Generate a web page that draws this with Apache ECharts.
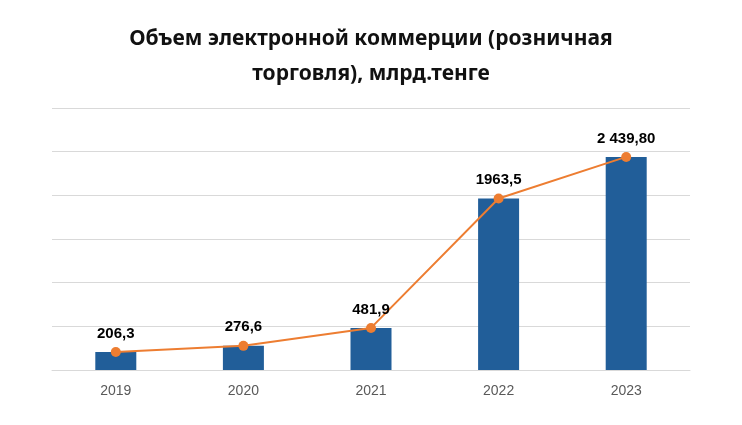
<!DOCTYPE html>
<html>
<head>
<meta charset="utf-8">
<script src="https://cdn.jsdelivr.net/npm/echarts@6/dist/echarts.min.js"></script>
<style>
html, body { margin: 0; padding: 0; background: #fff; }
#chart { width: 742px; height: 425px; }
</style>
</head>
<body>
<div id="chart"></div>
<script>
var years = ['2019', '2020', '2021', '2022', '2023'];
var values = [206.3, 276.6, 481.9, 1963.5, 2439.8];
var valueLabels = ['206,3', '276,6', '481,9', '1963,5', '2 439,80'];

var myChart = echarts.init(document.getElementById('chart'));
var option = {
    title: {
        text: 'Объем электронной коммерции (розничная\nторговля), млрд.тенге',
        left: 'center',
        top: 17,
        textStyle: {
            fontFamily: 'Noto Sans',
            fontWeight: 'bold',
            fontSize: 21,
            lineHeight: 35,
            color: '#111'
        }
    },
    grid: { left: 52, right: 52, top: 108, bottom: 55 },
    xAxis: {
        type: 'category',
        data: years,
        axisTick: { show: false },
        axisLine: { lineStyle: { color: '#d9d9d9' } },
        axisLabel: { color: '#595959', fontSize: 14, fontFamily: 'Liberation Sans', margin: 14 }
    },
    yAxis: {
        type: 'value',
        min: 0,
        max: 3000,
        interval: 500,
        axisLabel: { show: false },
        axisLine: { show: false },
        axisTick: { show: false },
        splitLine: { lineStyle: { color: '#d9d9d9' } }
    },
    series: [
        {
            name: 'bar',
            type: 'bar',
            data: values,
            barWidth: 41,
            itemStyle: { color: '#215e99' },
            silent: true
        },
        {
            name: 'line',
            type: 'line',
            data: values,
            symbol: 'circle',
            symbolSize: 10,
            itemStyle: { color: '#ed7d31' },
            lineStyle: { color: '#ed7d31', width: 2 },
            label: {
                show: true,
                position: 'top',
                distance: 6,
                fontFamily: 'Liberation Sans',
                fontWeight: 'bold',
                fontSize: 15,
                color: '#000',
                formatter: function (p) { return valueLabels[p.dataIndex]; }
            }
        }
    ]
};
myChart.setOption(option);
</script>
</body>
</html>
